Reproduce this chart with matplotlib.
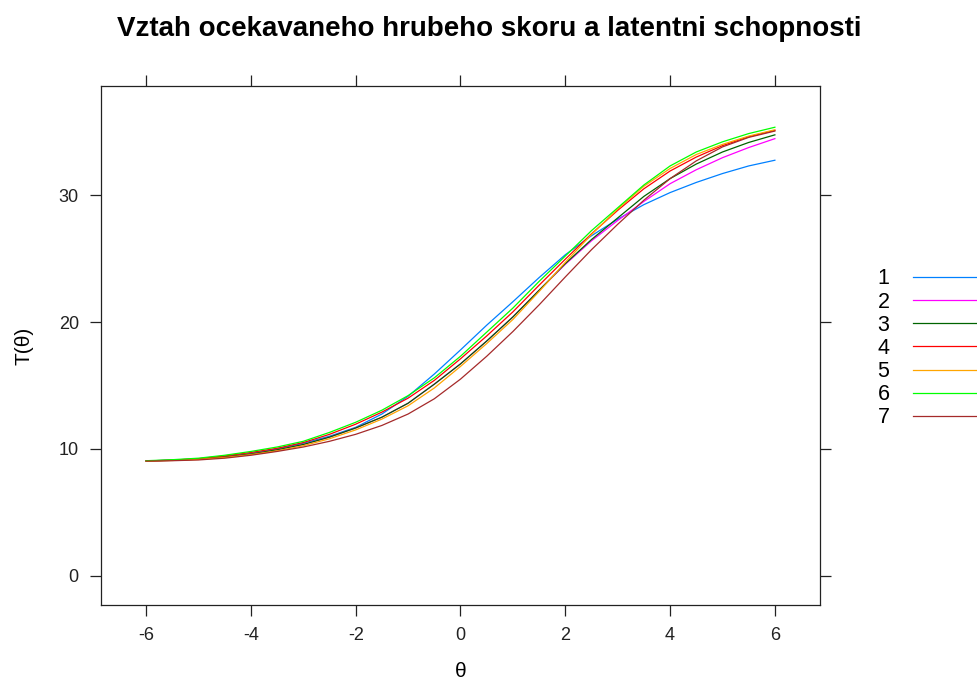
"""Expected total score vs latent ability, one curve per group (lattice look)."""
import matplotlib
matplotlib.use("Agg")
import matplotlib.pyplot as plt  # noqa: E402

plt.rcParams["font.family"] = ["Liberation Sans", "DejaVu Sans"]
plt.rcParams["axes.unicode_minus"] = False

THETA = [-6, -5.5, -5, -4.5, -4, -3.5, -3, -2.5, -2, -1.5, -1, -0.5,
         0, 0.5, 1, 1.5, 2, 2.5, 3, 3.5, 4, 4.5, 5, 5.5, 6]

T1 = [9.05, 9.12, 9.22, 9.40, 9.65, 10.00, 10.45, 11.00, 11.70, 12.75, 14.15, 15.90,
      17.80, 19.75, 21.60, 23.50, 25.30, 26.80, 28.10, 29.25, 30.20, 31.00, 31.70, 32.30, 32.75]
T2 = [9.05, 9.10, 9.20, 9.37, 9.60, 9.93, 10.35, 10.93, 11.65, 12.50, 13.60, 15.10,
      16.70, 18.50, 20.40, 22.50, 24.55, 26.40, 28.00, 29.50, 30.90, 32.00, 32.95, 33.75, 34.45]
T3 = [9.05, 9.10, 9.20, 9.37, 9.60, 9.93, 10.35, 10.93, 11.65, 12.50, 13.60, 15.10,
      16.70, 18.50, 20.40, 22.50, 24.60, 26.50, 28.20, 29.90, 31.30, 32.45, 33.40, 34.15, 34.75]
T4 = [9.05, 9.12, 9.23, 9.45, 9.72, 10.05, 10.50, 11.15, 11.95, 12.90, 14.00, 15.40,
      17.10, 18.90, 20.80, 22.90, 24.95, 26.95, 28.80, 30.50, 31.90, 33.00, 33.90, 34.60, 35.10]
T5 = [9.04, 9.09, 9.17, 9.32, 9.55, 9.85, 10.25, 10.80, 11.50, 12.35, 13.40, 14.80,
      16.50, 18.30, 20.20, 22.40, 24.70, 26.90, 28.90, 30.70, 32.10, 33.20, 34.00, 34.65, 35.15]
T6 = [9.07, 9.15, 9.27, 9.50, 9.80, 10.15, 10.60, 11.30, 12.10, 13.05, 14.20, 15.60,
      17.30, 19.20, 21.10, 23.20, 25.20, 27.20, 29.00, 30.80, 32.30, 33.40, 34.20, 34.85, 35.35]
T7 = [9.04, 9.07, 9.13, 9.27, 9.50, 9.80, 10.15, 10.60, 11.15, 11.85, 12.75, 13.95,
      15.50, 17.30, 19.25, 21.35, 23.55, 25.70, 27.70, 29.60, 31.30, 32.70, 33.80, 34.55, 35.05]

GROUPS = ["1", "2", "3", "4", "5", "6", "7"]
SERIES = [T1, T2, T3, T4, T5, T6, T7]
# lattice superpose.line colours
COLORS = ["#0080ff", "#ff00ff", "#006400", "#ff0000", "#ffa500", "#00ff00", "#a52a2a"]

XTICKS = [-6, -4, -2, 0, 2, 4, 6]
YTICKS = [0, 10, 20, 30]

fig = plt.figure(figsize=(9.78, 6.83), dpi=100)
ax = fig.add_axes([0.1033, 0.1142, 0.7351, 0.7599])

for name, vals, c in zip(GROUPS, SERIES, COLORS):
    ax.plot(THETA, vals, color=c, lw=0.9, label=name)

ax.set_xlim(-6.86, 6.86)
ax.set_ylim(-2.3, 38.6)
ax.set_xticks(XTICKS)
ax.set_yticks(YTICKS)
ax.tick_params(direction="out", length=8, width=0.9, labelsize=13,
               top=True, right=True, pad=8, colors="#222222")
for s in ax.spines.values():
    s.set_linewidth(0.9)
    s.set_color("#222222")

ax.set_xlabel("θ", fontsize=15, labelpad=13)
ax.set_ylabel("T(θ)", fontsize=15, labelpad=18)
fig.suptitle("Vztah ocekavaneho hrubeho skoru a latentni schopnosti",
             fontsize=20, fontweight="bold", y=0.977)

ax.legend(loc="upper left", bbox_to_anchor=(1.068, 0.665), frameon=False,
          markerfirst=False, fontsize=15.5, handlelength=5, handletextpad=1.1,
          labelspacing=0.1, borderaxespad=0)

fig.savefig("out.png", dpi=100)
